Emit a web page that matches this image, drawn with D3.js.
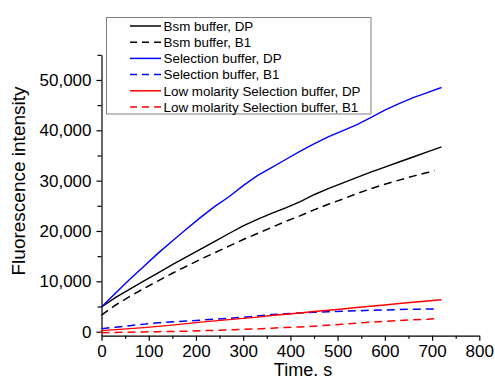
<!DOCTYPE html>
<html>
<head>
<meta charset="utf-8">
<script src="https://cdn.jsdelivr.net/npm/d3@7"></script>
<style>
  body { margin: 0; background: #fff; }
  svg text { font-family: "Liberation Sans", Arial, sans-serif; fill: #000; }
  .axis path, .axis line { stroke: #000; stroke-width: 1.2; }
  .axis text { font-size: 17px; font-family: "Liberation Sans", Arial, sans-serif; }
</style>
</head>
<body>
<svg id="chart" width="495" height="379"></svg>
<script>
// time points (s)
const timeSolid = [0, 30, 60, 90, 120, 150, 180, 210, 240, 270, 300, 330, 360, 390, 420, 450, 480, 510, 540, 570, 600, 630, 660, 690, 720];
const timeDashed = [0, 30, 60, 90, 120, 150, 180, 210, 240, 270, 300, 330, 360, 390, 420, 450, 480, 510, 540, 570, 600, 630, 660, 690, 705];

const bsmDP = [4900, 6800, 8450, 10100, 11700, 13300, 14850, 16400, 17950, 19500, 21000, 22300, 23500, 24600, 25800, 27200, 28400, 29500, 30600, 31700, 32700, 33700, 34700, 35700, 36700];
const bsmB1 = [3300, 5300, 7000, 8600, 10100, 11600, 13000, 14400, 15700, 17000, 18300, 19500, 20700, 21900, 23000, 24200, 25300, 26300, 27400, 28400, 29300, 30100, 30900, 31600, 32000];
const selDP = [4900, 7700, 10400, 13000, 15600, 18000, 20400, 22700, 24900, 26800, 29000, 31000, 32600, 34200, 35800, 37300, 38700, 39900, 41100, 42500, 44000, 45300, 46500, 47500, 48500];
const selB1 = [600, 900, 1200, 1500, 1750, 1950, 2100, 2300, 2500, 2650, 2850, 3100, 3400, 3550, 3700, 3850, 3950, 4050, 4150, 4250, 4300, 4400, 4450, 4500, 4500];
const lowDP = [200, 400, 600, 800, 1050, 1300, 1600, 1900, 2150, 2400, 2650, 2900, 3200, 3450, 3700, 4000, 4250, 4500, 4800, 5050, 5300, 5600, 5850, 6100, 6350];
const lowB1 = [-200, -150, -100, -50, 0, 50, 100, 200, 250, 350, 450, 550, 700, 850, 950, 1100, 1300, 1450, 1700, 1900, 2050, 2200, 2350, 2450, 2550];

const seriesNames = ["Bsm buffer, DP", "Bsm buffer, B1", "Selection buffer, DP", "Selection buffer, B1", "Low molarity Selection buffer, DP", "Low molarity Selection buffer, B1"];

const xTicks = [0, 100, 200, 300, 400, 500, 600, 700, 800];
const xMinor = [50, 150, 250, 350, 450, 550, 650, 750];
const yTicks = [0, 10000, 20000, 30000, 40000, 50000];
const yMinor = [5000, 15000, 25000, 35000, 45000, 55000];

const series = [
  { name: seriesNames[0], t: timeSolid, v: bsmDP, color: "#000000", dash: null },
  { name: seriesNames[1], t: timeDashed, v: bsmB1, color: "#000000", dash: "8,5" },
  { name: seriesNames[2], t: timeSolid, v: selDP, color: "#0000ff", dash: null },
  { name: seriesNames[3], t: timeDashed, v: selB1, color: "#0000ff", dash: "8,5" },
  { name: seriesNames[4], t: timeSolid, v: lowDP, color: "#ff0000", dash: null },
  { name: seriesNames[5], t: timeDashed, v: lowB1, color: "#ff0000", dash: "8,5" }
];

const margin = { top: 54.8, right: 15.7, bottom: 43.3, left: 101.5 };
const width = 495 - margin.left - margin.right;
const height = 379 - margin.top - margin.bottom;

const svg = d3.select("#chart");
const g = svg.append("g")
    .attr("transform", "translate(" + margin.left + "," + margin.top + ")");

const x = d3.scaleLinear().domain([0, 800]).range([0, width]);
const y = d3.scaleLinear().domain([-800, 55000]).range([height, 0]);

// minor ticks first so the major axes sit on top
g.append("g")
    .attr("class", "axis")
    .attr("transform", "translate(0," + height + ")")
    .call(d3.axisBottom(x).tickValues(xMinor).tickSize(3).tickFormat(""))
    .select(".domain").remove();
g.append("g")
    .attr("class", "axis")
    .call(d3.axisLeft(y).tickValues(yMinor).tickSize(4).tickFormat(""))
    .select(".domain").remove();

g.append("g")
    .attr("class", "axis")
    .attr("transform", "translate(0," + height + ")")
    .call(d3.axisBottom(x).tickValues(xTicks).tickSizeInner(5).tickSizeOuter(0).tickPadding(4));

g.append("g")
    .attr("class", "axis")
    .call(d3.axisLeft(y).tickValues(yTicks).tickSizeInner(5).tickSizeOuter(0).tickPadding(5)
        .tickFormat(d3.format(",")));

const line = d3.line()
    .x(d => x(d[0]))
    .y(d => y(d[1]));

series.forEach(s => {
  const pts = s.t.map((t, i) => [t, s.v[i]]);
  g.append("path")
      .datum(pts)
      .attr("fill", "none")
      .attr("stroke", s.color)
      .attr("stroke-width", s.dash ? 1.5 : 1.4)
      .attr("stroke-dasharray", s.dash)
      .attr("d", line);
});

// axis titles
svg.append("text")
    .attr("x", 303)
    .attr("y", 376)
    .attr("text-anchor", "middle")
    .style("font-size", "18px")
    .text("Time. s");

svg.append("text")
    .attr("transform", "translate(25,181) rotate(-90)")
    .attr("text-anchor", "middle")
    .style("font-size", "19px")
    .text("Fluorescence intensity");

// legend
const legend = svg.append("g");
legend.append("rect")
    .attr("x", 106.5)
    .attr("y", 17.5)
    .attr("width", 264.5)
    .attr("height", 96.5)
    .attr("fill", "#fff")
    .attr("stroke", "#808080")
    .attr("stroke-width", 1);

series.forEach((s, i) => {
  const ly = 26 + i * 16.2;
  legend.append("line")
      .attr("x1", 130).attr("x2", 161)
      .attr("y1", ly).attr("y2", ly)
      .attr("stroke", s.color)
      .attr("stroke-width", 1.5)
      .attr("stroke-dasharray", s.dash ? "7,5" : null);
  legend.append("text")
      .attr("x", 163.5)
      .attr("y", ly + 4.8)
      .style("font-size", "13.4px")
      .text(s.name);
});
</script>
</body>
</html>
